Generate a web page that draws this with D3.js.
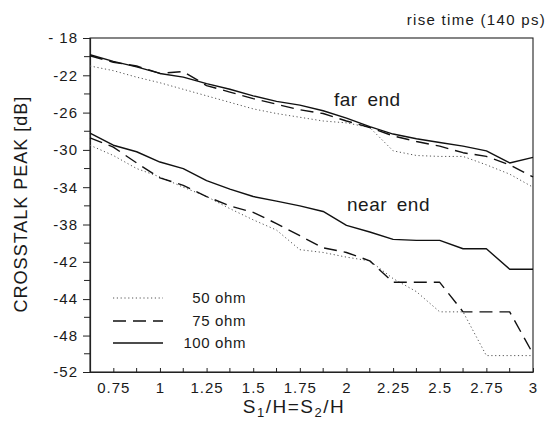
<!DOCTYPE html>
<html><head><meta charset="utf-8">
<script src="https://cdn.jsdelivr.net/npm/d3@7"></script>
<style>
body{margin:0;background:#fff;}
svg{display:block;}
text{font-family:"Liberation Sans",Arial,sans-serif;fill:#1a1a1a;}
</style></head><body>
<svg id="c" width="549" height="425"></svg>
<script>
// ---- data ----
const xValues = [0.625,0.75,0.875,1,1.125,1.25,1.375,1.5,1.625,1.75,1.875,2,2.125,2.25,2.375,2.5,2.625,2.75,2.875,3];
const far50  = [-21.0,-21.5,-22.2,-22.8,-23.5,-24.2,-24.9,-25.6,-26.1,-26.5,-26.9,-27.1,-27.6,-30.1,-30.6,-30.7,-30.7,-31.6,-32.6,-34.0];
const far75  = [-19.9,-20.6,-21.0,-21.8,-21.6,-23.1,-23.8,-24.5,-25.1,-25.7,-26.1,-26.9,-27.6,-28.5,-29.1,-29.6,-30.3,-30.7,-31.6,-32.9];
const far100 = [-19.8,-20.5,-21.1,-21.8,-22.2,-22.9,-23.5,-24.2,-24.8,-25.2,-25.8,-26.6,-27.5,-28.3,-28.8,-29.2,-29.6,-30.1,-31.4,-30.8];
const near50  = [-29.5,-30.6,-32.0,-32.9,-34.0,-35.0,-36.3,-37.5,-38.6,-40.7,-41.0,-41.5,-41.9,-42.9,-43.6,-45.4,-45.4,-50.2,-50.2,-50.2];
const near75  = [-28.7,-29.7,-31.4,-33.0,-33.8,-35.0,-36.0,-36.7,-37.9,-39.2,-40.5,-41.0,-41.9,-43.1,-43.1,-43.1,-45.4,-45.4,-45.4,-50.0];
const near100 = [-28.2,-29.5,-30.2,-31.3,-32.0,-33.3,-34.2,-35.0,-35.5,-36.0,-36.6,-38.1,-38.8,-39.6,-39.7,-39.7,-40.6,-40.6,-42.4,-42.4];
const seriesNames = ["50 ohm","75 ohm","100 ohm"];
const xTickValues = [0.75,1,1.25,1.5,1.75,2,2.25,2.5,2.75,3];
const xTickLabels = ["0.75","1","1.25","1.5","1.75","2","2.25","2.5","2.75","3"];
const yTickValues = [-18,-22,-26,-30,-34,-38,-42,-44,-48,-52];
const yTickLabels = ["- 18","-22","-26","-30","-34","-38","-42","-44","-48","-52"];

// ---- layout ----
const L = 90, R = 533, T = 38, B = 372;
const svg = d3.select("#c");
const x = d3.scaleLinear().domain([0.625, 3]).range([L, R]);
// axis as printed: equal spacing between printed labels
const y = d3.scaleLinear().domain([-18, -42, -44, -52]).range([T, T + 6*37.3, T + 7*37.3, B]);

const styles = [
  {dash:"1.2,2.6", w:1.0, c:"#555"},
  {dash:"13,7", w:1.4, c:"#111"},
  {dash:null, w:1.4, c:"#111"}
];

// frame
svg.append("rect").attr("x",L).attr("y",T).attr("width",R-L).attr("height",B-T)
  .attr("fill","none").attr("stroke","#222").attr("stroke-width",1.1);

// y axis
const yAxis = d3.axisLeft(y).tickValues(yTickValues)
  .tickFormat((d,i)=>yTickLabels[i]).tickSizeOuter(0).tickSize(7).tickPadding(5);
const gy = svg.append("g").attr("transform",`translate(${L},0)`).call(yAxis);
gy.select(".domain").attr("stroke","#222").attr("stroke-width",1.2);
gy.selectAll(".tick line").attr("stroke","#222");
gy.selectAll("text").style("font-size","15px").style("letter-spacing","1px");
const yMinor = d3.pairs(yTickValues).map(p => (p[0]+p[1])/2);
svg.append("g").selectAll("line").data(yMinor).join("line")
  .attr("x1",L-6).attr("x2",L).attr("y1",d=>y(d)).attr("y2",d=>y(d)).attr("stroke","#222");

// x axis
const xAxis = d3.axisBottom(x).tickValues(xTickValues)
  .tickFormat((d,i)=>xTickLabels[i]).tickSizeOuter(0).tickSizeInner(-4).tickPadding(10);
const gx = svg.append("g").attr("transform",`translate(0,${B})`).call(xAxis);
gx.select(".domain").attr("stroke","#222").attr("stroke-width",1.2);
gx.selectAll(".tick line").attr("stroke","#222");
gx.selectAll("text").style("font-size","15px").style("letter-spacing","1px");
const xMinor = d3.pairs(xTickValues).map(p => (p[0]+p[1])/2);
svg.append("g").selectAll("line").data(xMinor).join("line")
  .attr("x1",d=>x(d)).attr("x2",d=>x(d)).attr("y1",B).attr("y2",B-4).attr("stroke","#222");

// lines
const line = d3.line().x((d,i)=>x(xValues[i])).y(d=>y(d));
const groups = [[far50,near50],[far75,near75],[far100,near100]];
groups.forEach((g,k)=>{
  g.forEach(arr=>{
    svg.append("path").datum(arr).attr("d",line)
      .attr("fill","none").attr("stroke",styles[k].c).attr("stroke-width",styles[k].w)
      .attr("stroke-dasharray",styles[k].dash).attr("stroke-linejoin","round");
  });
});

// annotations
svg.append("text").attr("x",546).attr("y",25).attr("text-anchor","end")
  .style("font-size","15px").style("letter-spacing","1.3px").text("rise time (140 ps)");
svg.append("text").attr("x",334).attr("y",106).style("font-size","19px")
  .style("letter-spacing","0.5px").style("word-spacing","4px").text("far end");
svg.append("text").attr("x",347).attr("y",211).style("font-size","19px")
  .style("letter-spacing","0.5px").style("word-spacing","4px").text("near end");

// legend
const legY = [298, 321, 343];
seriesNames.forEach((n,k)=>{
  svg.append("line").attr("x1",113).attr("x2",163).attr("y1",legY[k]).attr("y2",legY[k])
    .attr("stroke",styles[k].c).attr("stroke-width",styles[k].w).attr("stroke-dasharray",styles[k].dash);
  svg.append("text").attr("x",246).attr("y",legY[k]+5).attr("text-anchor","end")
    .style("font-size","15px").style("letter-spacing","0.6px").text(n);
});

// axis titles
const xt = svg.append("text").attr("x",294).attr("y",413).attr("text-anchor","middle")
  .style("font-size","19px").style("letter-spacing","1.5px");
xt.append("tspan").text("S");
xt.append("tspan").attr("dy",4).style("font-size","13px").text("1");
xt.append("tspan").attr("dy",-4).text("/H=S");
xt.append("tspan").attr("dy",4).style("font-size","13px").text("2");
xt.append("tspan").attr("dy",-4).text("/H");
svg.append("text").attr("transform","translate(27,204) rotate(-90)").attr("text-anchor","middle")
  .style("font-size","18px").style("letter-spacing","1px").text("CROSSTALK PEAK [dB]");
</script>
</body></html>
